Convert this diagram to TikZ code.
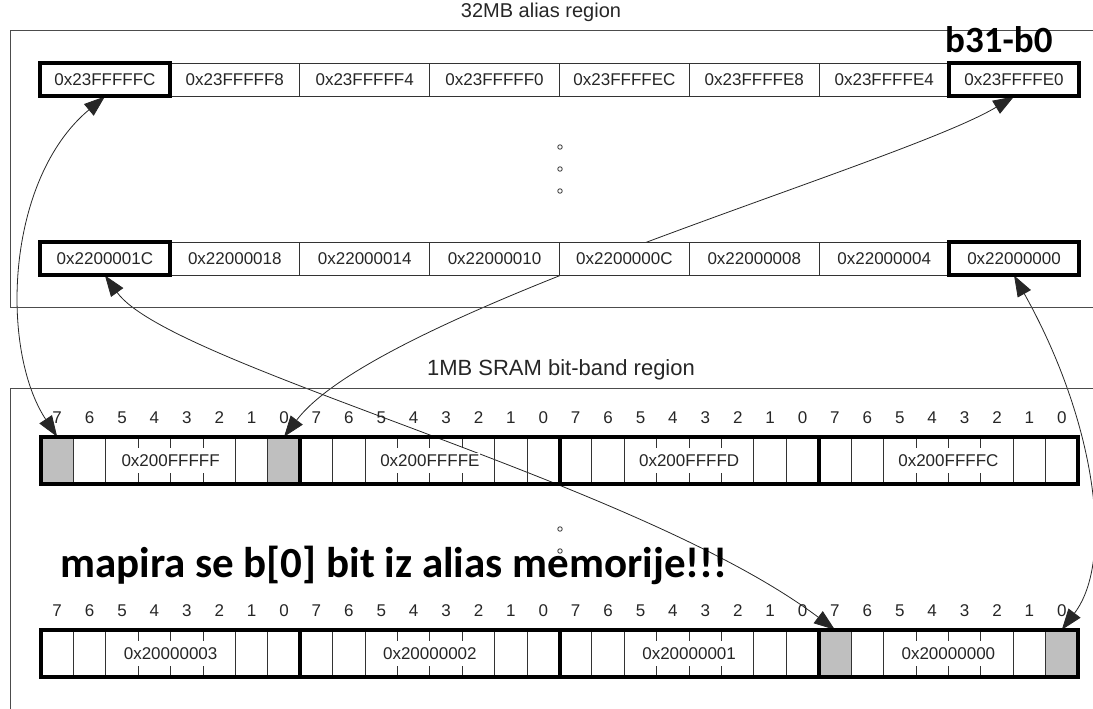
\documentclass[tikz,border=0pt]{standalone}
\usepackage{fontspec}
\setmainfont{Liberation Sans}
\newfontfamily\calib{Carlito}
\usetikzlibrary{arrows.meta}
\pgfdeclarelayer{bg}
\pgfsetlayers{bg,main}
\tikzset{
  lbl/.style={font=\fontsize{17}{20}\selectfont, inner sep=0pt, text=black!85},
  ttl/.style={inner sep=0pt, text=black!85},
  region/.style={draw=black!70, line width=1pt},
  acell/.style={draw=black!80, line width=0.9pt, fill=white, minimum width=129.875pt, minimum height=33pt, inner sep=0pt, font=\fontsize{17}{20}\selectfont, text=black!85},
  thinln/.style={draw=black!80, line width=0.9pt},
  thickln/.style={draw=black, line width=4pt},
  graycell/.style={fill=black!25, minimum width=32.406pt, minimum height=47pt, inner sep=0pt},
  blabel/.style={fill=white, inner sep=1pt, font=\fontsize{17}{20}\selectfont, text=black!85},
  conn/.style={{Triangle[length=21pt,width=15pt]}-{Triangle[length=21pt,width=15pt]}, draw=black!85, line width=0.8pt},
  dotc/.style={draw=black!80, line width=0.8pt, fill=white, circle, minimum size=4.5pt, inner sep=0pt},
  bignote/.style={font=\calib\bfseries, inner sep=0pt, anchor=base west},
}
\begin{document}
\begin{tikzpicture}[x=1pt,y=-1pt]
\useasboundingbox (0,0) rectangle (1093,709);
% region frames
\draw[region] (1095,31) -- (10,31) -- (10,307) -- (1095,307);
\draw[region] (1095,388) -- (10,388) -- (10,712);
\node[ttl, font=\fontsize{20}{24}\selectfont] (t1) at (541,12) {32MB alias region};
\node[ttl, font=\fontsize{22}{26}\selectfont] (t2) at (561,370) {1MB SRAM bit-band region};
% alias cells
\foreach \t [count=\i from 0] in {0x23FFFFFC,0x23FFFFF8,0x23FFFFF4,0x23FFFFF0,0x23FFFFEC,0x23FFFFE8,0x23FFFFE4,0x23FFFFE0}
  \node[acell] (a\i) at ({104.94+129.875*\i},79.5) {\t};
\foreach \t [count=\i from 0] in {0x2200001C,0x22000018,0x22000014,0x22000010,0x2200000C,0x22000008,0x22000004,0x22000000}
  \node[acell] (b\i) at ({104.94+129.875*\i},258.5) {\t};
\foreach \n in {a0,a7,b0,b7}
  \draw[thickln] (\n.south west) rectangle (\n.north east);
% dots
\foreach \y [count=\i] in {147,169,191} \node[dotc] (d\i) at (560,\y) {};
\foreach \y [count=\i] in {529,551} \node[dotc] (e\i) at (560,\y) {};
% gray bit cells
\node[graycell] (g1a) at ({41+32.40625*0.5},460.5) {};
\node[graycell] (g1b) at ({41+32.40625*7.5},460.5) {};
\node[graycell] (g2a) at ({41+259.25*3+32.40625*0.5},653.5) {};
\node[graycell] (g2b) at ({41+259.25*3+32.40625*7.5},653.5) {};
% bit rows
\foreach \yt/\r in {437/1,630/2}{
  \foreach \k in {0,...,3}{
    \foreach \j in {1,2,6,7}
      \draw[thinln] ({41+259.25*\k+32.40625*\j},\yt) -- ++(0,47);
    \foreach \j in {3,4,5}{
      \draw[thinln] ({41+259.25*\k+32.40625*\j},\yt) -- ++(0,11);
      \draw[thinln] ({41+259.25*\k+32.40625*\j},\yt+47) -- ++(0,-11);
    }
    \foreach \j [evaluate=\j as \b using int(7-\j)] in {0,...,7}
      \node[lbl] (n\r\k\j) at ({41+259.25*\k+32.40625*(\j+0.5)},\yt-19) {\b};
  }
  \foreach \k in {1,2,3}
    \draw[thickln] ({41+259.25*\k},\yt) -- ++(0,47);
  \draw[thickln] (41,\yt) rectangle (1078,\yt+47);
}
\foreach \t [count=\k from 0] in {0x200FFFFF,0x200FFFFE,0x200FFFFD,0x200FFFFC}
  \node[blabel] (p\k) at ({41+259.25*\k+129.625},460.5) {\t};
\foreach \t [count=\k from 0] in {0x20000003,0x20000002,0x20000001,0x20000000}
  \node[blabel] (q\k) at ({41+259.25*\k+129.625},653.5) {\t};
% notes
\node[bignote, font=\calib\bfseries\fontsize{37}{40}\selectfont] (nb) at (945,53) {b31-b0};
\node[bignote, font=\calib\bfseries\fontsize{43}{46}\selectfont] (nm) at (60,577) {mapira se b[0] bit iz alias memorije!!!};
% connectors
\begin{pgfonlayer}{bg}
\draw[conn] (g1a.north) .. controls (0,350) and (5,180) .. (a0.south);
\draw[conn] (g1b.north) .. controls (380,310) and (900,165) .. (a7.south);
\draw[conn] (g2a.north) .. controls (636,480) and (170,366) .. (b0.south);
\draw[conn] (g2b.north) .. controls (1115,560) and (1095,420) .. (b7.south);
\end{pgfonlayer}
\end{tikzpicture}
\end{document}
